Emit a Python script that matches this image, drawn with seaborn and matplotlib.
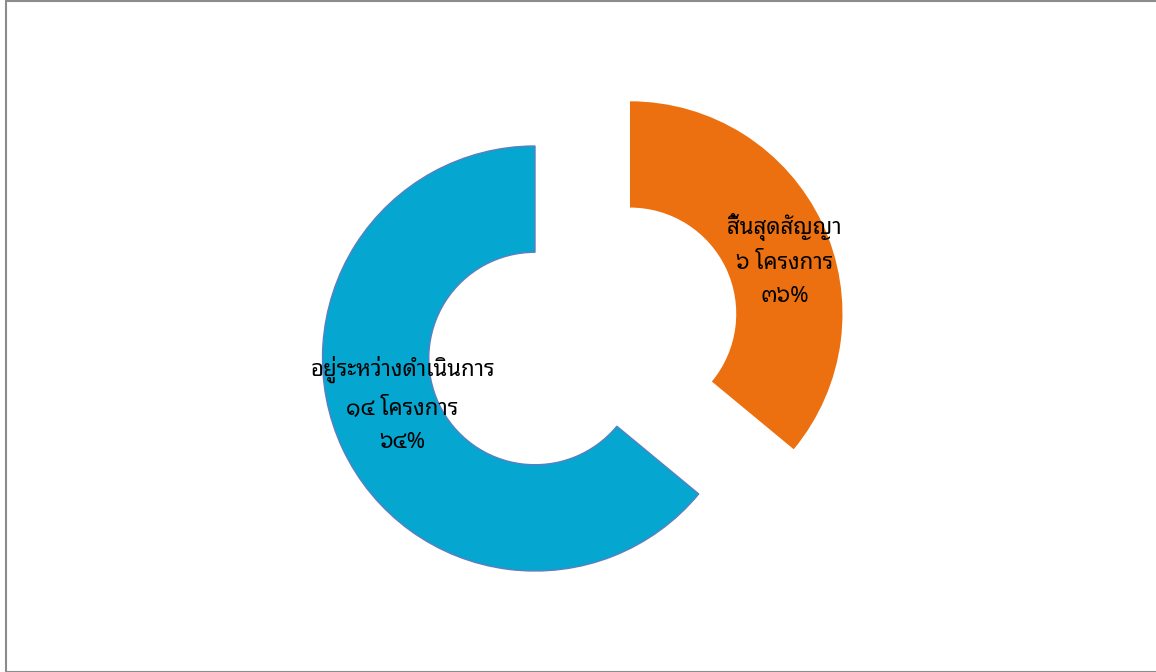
import numpy as np
import matplotlib
matplotlib.use("Agg")
import matplotlib.pyplot as plt
import seaborn as sns

sns.set_theme(style="white")
plt.rcParams['font.family'] = ['Noto Sans Thai Looped', 'Loma', 'DejaVu Sans']

# data
labels = ["สิ้นสุดสัญญา", "อยู่ระหว่างดำเนินการ"]
counts = ["๖", "๑๔"]
pct_text = ["๓๖%", "๖๔%"]
values = [36, 64]
colors = ["#EC700F", "#05A6CF"]

W, H = 1156, 672
R = 212.5  # outer radius in px
fig = plt.figure(figsize=(W / 100, H / 100), dpi=100)
ax = fig.add_axes([0, 0, 1, 1])

wedges, _ = ax.pie(values, colors=colors, startangle=90, counterclock=False,
                   explode=[0.494, 0], radius=1,
                   wedgeprops=dict(width=0.5, linewidth=0))
wedges[1].set_edgecolor("#5B7FC0")
wedges[1].set_linewidth(1.0)

cx, cy = 535, 358.5  # centre of the donut (px, from top-left)
ax.set_aspect("equal", adjustable="datalim")
ax.set_xlim(-cx / R, (W - cx) / R)
ax.set_ylim(-(H - cy) / R, cy / R)
ax.axis("off")

# label placement (angle offset, radial distance) relative to each wedge
offsets = [(-6, 0.77), (-6, 0.66)]
for w, lab, c, p, (da, r) in zip(wedges, labels, counts, pct_text, offsets):
    mid = np.deg2rad((w.theta1 + w.theta2) / 2 + da)
    x0, y0 = w.center
    ax.text(x0 + r * np.cos(mid), y0 + r * np.sin(mid),
            f"{lab}\n{c} โครงการ\n{p}", ha="center", va="center",
            fontsize=16, color="black", linespacing=1.75,
            fontweight="semibold")

# figure frame
fig.patches.append(plt.Rectangle((5.5 / W, 0.5 / H), 1.2, 1 - 1.0 / H,
                                 transform=fig.transFigure, fill=False,
                                 edgecolor="#8C8C8C", linewidth=1.5))

fig.savefig("out.png", dpi=100, facecolor="white")
